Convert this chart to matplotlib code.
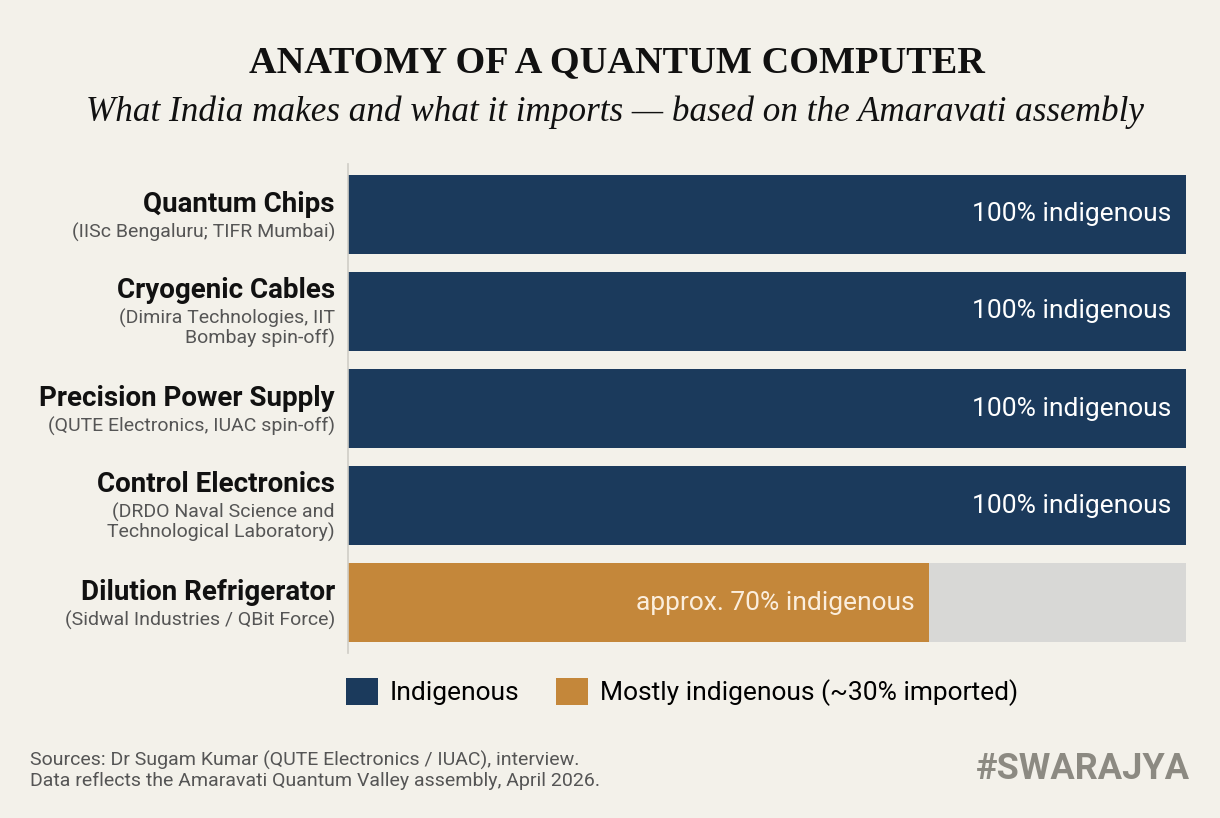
import matplotlib.pyplot as plt
from matplotlib.patches import Patch

# data
components = ["Quantum Chips", "Cryogenic Cables", "Precision Power Supply",
              "Control Electronics", "Dilution Refrigerator"]
makers = ["(IISc Bengaluru; TIFR Mumbai)",
          "(Dimira Technologies, IIT\nBombay spin-off)",
          "(QUTE Electronics, IUAC spin-off)",
          "(DRDO Naval Science and\nTechnological Laboratory)",
          "(Sidwal Industries / QBit Force)"]
indigenous_pct = [100, 100, 100, 100, 69.3]
status = ["Indigenous", "Indigenous", "Indigenous", "Indigenous", "Mostly indigenous"]
bar_text = ["100% indigenous", "100% indigenous", "100% indigenous",
            "100% indigenous", "approx. 70% indigenous"]

BG = "#f3f1ea"
NAVY = "#1b3a5c"
ORANGE = "#c4873a"
GREY = "#d8d8d6"
colors = {"Indigenous": NAVY, "Mostly indigenous": ORANGE}

fig = plt.figure(figsize=(12.2, 8.18), dpi=100, facecolor=BG)
ax = fig.add_axes([0.2852, 0.2017, 0.6869, 0.5978])
ax.set_facecolor(BG)

ypos = list(range(len(components)))
# grey remainder first, then the indigenous share on top
ax.barh(ypos, [100] * len(ypos), height=0.815, color=GREY, zorder=1)
ax.barh(ypos, indigenous_pct, height=0.815,
        color=[colors[s] for s in status], zorder=2)

for y, v, t, s in zip(ypos, indigenous_pct, bar_text, status):
    tc = "white" if s == "Indigenous" else "#fbeedd"
    ax.text(v - 1.7, y, t, ha="right", va="center", color=tc,
            fontsize=19, family="Roboto", zorder=3)

ax.set_xlim(0, 100)
ax.set_ylim(len(components) - 0.48, -0.52)
ax.set_xticks([])
ax.set_yticks([])
for side in ["top", "right", "bottom"]:
    ax.spines[side].set_visible(False)
ax.spines["left"].set_color("#cfcdc6")
ax.spines["left"].set_linewidth(1.2)

# category labels on the left
for y, name, maker in zip(ypos, components, makers):
    nlines = maker.count("\n") + 1
    off = 0.1 if nlines == 1 else 0.22
    ax.text(-1.55, y - off, name, ha="right", va="center", fontsize=20,
            fontweight="bold", family="Roboto", color="#111111")
    ax.text(-1.55, y - off + 0.19, maker, ha="right", va="top", fontsize=14,
            family="Roboto", color="#555555", linespacing=1.1)

fig.text(0.506, 0.923, "ANATOMY OF A QUANTUM COMPUTER", ha="center", va="center",
         fontsize=27.5, fontweight="bold", family="Liberation Serif", color="#111111")
fig.text(0.504, 0.863, "What India makes and what it imports \u2014 based on the Amaravati assembly",
         ha="center", va="center", fontsize=25.3, style="italic",
         family="Liberation Serif", color="#111111")

handles = [Patch(facecolor=NAVY, label="Indigenous"),
           Patch(facecolor=ORANGE, label="Mostly indigenous (~30% imported)")]
fig.legend(handles=handles, loc="center", bbox_to_anchor=(0.559, 0.154), ncol=2,
           frameon=False, prop={"family": "Roboto", "size": 19},
           handlelength=1.2, handleheight=1.2, handletextpad=0.45, columnspacing=1.4)

fig.text(0.0246, 0.058, "Sources: Dr Sugam Kumar (QUTE Electronics / IUAC), interview.\n"
         "Data reflects the Amaravati Quantum Valley assembly, April 2026.",
         ha="left", va="center", fontsize=14, family="Roboto", color="#555555",
         linespacing=1.1)
fig.text(0.9755, 0.06, "#SWARAJYA", ha="right", va="center", fontsize=26,
         fontweight="bold", family="Roboto", color="#8c8a82")

fig.savefig("out.png", dpi=100, facecolor=BG)
